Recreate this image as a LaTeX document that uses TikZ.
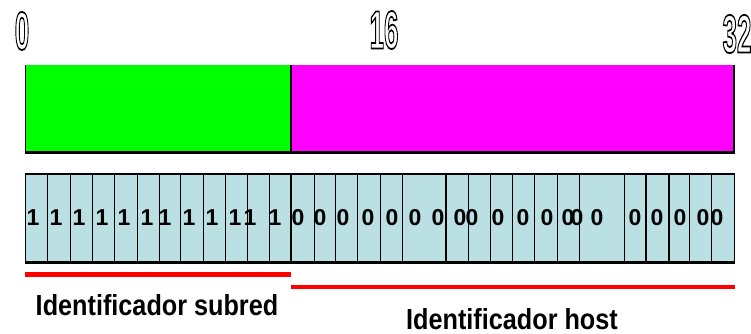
\documentclass[tikz,border=0pt]{standalone}
\usepackage{fontspec}
\setmainfont{Liberation Sans}
\definecolor{cellfill}{RGB}{186,224,227}
\definecolor{netgreen}{RGB}{0,255,0}
\definecolor{hostmagenta}{RGB}{255,0,255}
\definecolor{markred}{RGB}{255,0,0}
% outlined (stroked, unfilled) condensed numerals
\newcommand{\hollow}[1]{\scalebox{0.48}[1]{\special{pdf:literal direct 1 Tr 1.8 w}#1\special{pdf:literal direct 0 Tr 0.4 w}}}
\begin{document}
\begin{tikzpicture}[x=1pt,y=-1pt,
  ruler/.style={inner sep=0pt,font=\bfseries\fontsize{54}{54}\selectfont},
  bit/.style={inner sep=0pt,font=\bfseries\fontsize{23}{23}\selectfont},
  caption/.style={inner sep=0pt,font=\bfseries\fontsize{29}{29}\selectfont,xscale=0.87},
  redbar/.style={markred,line width=4.5pt},
  cellline/.style={line width=1pt},
  thickline/.style={line width=1.8pt}]
\useasboundingbox (0,0) rectangle (751,334);

% bit position marks
\node[ruler] (m0)  at (22,31) {\hollow{0}};
\node[ruler] (m16) at (384,30) {\hollow{16}};
\node[ruler] (m32) at (737,34) {\hollow{32}};

% network / host split bar
\fill[netgreen] (25.5,65) rectangle (291,152);
\fill[hostmagenta] (291,65) rectangle (734,152);
\draw[line width=1.2pt] (25.5,65) -- (25.5,152);
\draw[line width=1.6pt] (734,65) -- (734,152);
\draw[thickline] (291,65) -- (291,152);
\draw[line width=3pt] (24.9,152.5) -- (734.8,152.5);

% bit cells
\fill[cellfill] (25.7,174) rectangle (734.3,262);
\foreach \x in {47.7,70.3,92.3,114.3,137,159,180.3,203,225,247,269,314,335.3,357.3,380,402.3,468,490.3,512.7,534.7,557.3,579.7,624.7,689.3,711.3}
  \draw[cellline] (\x,174) -- (\x,262);
\foreach \x in {291,446,646,668.7}
  \draw[thickline] (\x,174) -- (\x,262);
\draw[line width=1.2pt] (25.7,174) rectangle (734.3,262);
\draw[line width=3pt] (25.1,262.5) -- (734.9,262.5);

% subnet mask bits
\foreach \x [count=\i] in {33,56,79,102,124,147,165,189,212,235,250,275}
  \node[bit] (one\i) at (\x,218) {1};
\foreach \x [count=\i] in {298,320,343,368,392,415,438,460,472,498,523,547,568,577,597,635,657,680,703,717}
  \node[bit] (zero\i) at (\x,218) {0};

% field underlines and names
\draw[redbar] (25,274.5) -- (291,274.5);
\draw[redbar] (291,287) -- (735,287);
\node[caption] (subred) at (157,305) {Identificador subred};
\node[caption] (host) at (512,319) {Identificador host};
\end{tikzpicture}
\end{document}
